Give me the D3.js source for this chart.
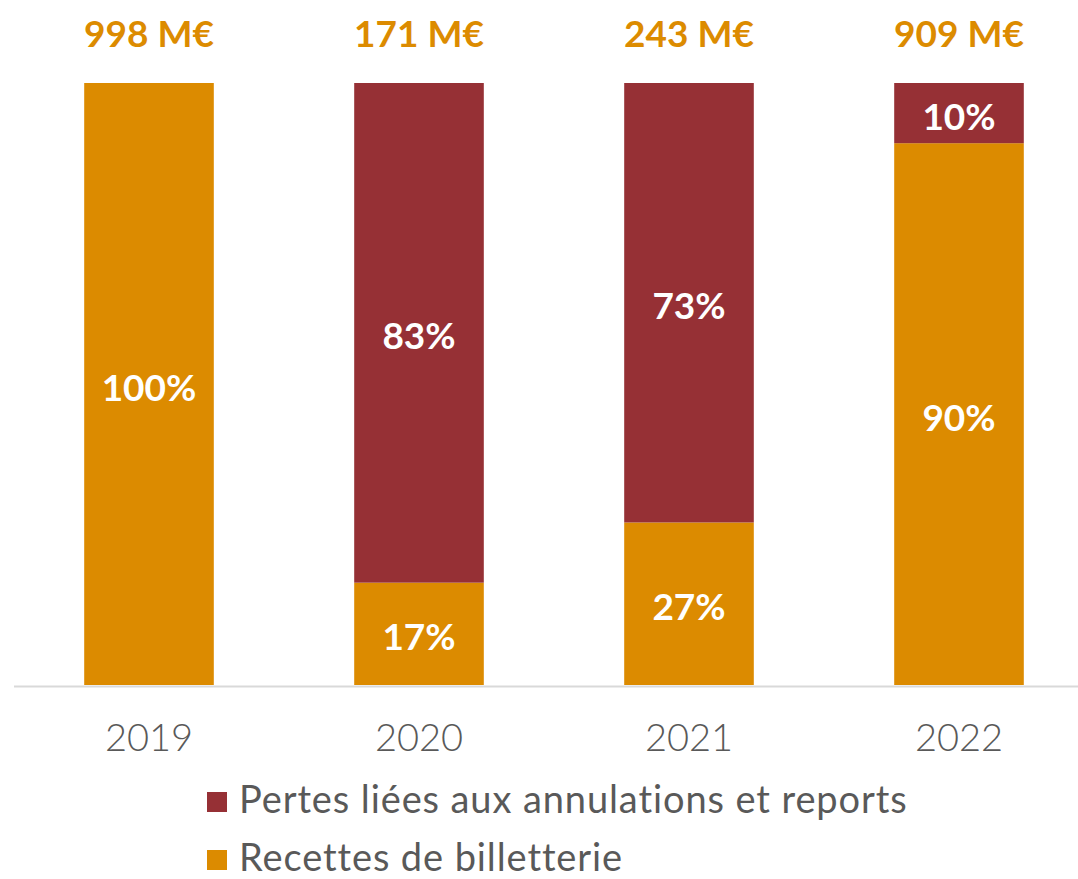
<!DOCTYPE html>
<html>
<head>
<meta charset="utf-8">
<script src="https://cdn.jsdelivr.net/npm/d3@7"></script>
<style>
  body { margin: 0; background: #fff; }
  svg text { font-family: "Lato", "Open Sans", sans-serif; }
</style>
</head>
<body>
<div id="chart"></div>
<script>
var years = ["2019", "2020", "2021", "2022"];
var recettes = [100, 17, 27, 90];   // Recettes de billetterie (%)
var pertes = [0, 83, 73, 10];       // Pertes liées aux annulations et reports (%)
var totals = ["998 M€", "171 M€", "243 M€", "909 M€"];
var seriesNames = ["Pertes liées aux annulations et reports", "Recettes de billetterie"];

var ORANGE = "#dc8b00", RED = "#963035", GREY = "#595959";

var W = 1078, H = 879;
var svg = d3.select("#chart").append("svg")
    .attr("width", W).attr("height", H);

var x = d3.scaleBand().domain(years).range([14, 1094]).paddingInner(0.52).paddingOuter(0.26);
var y = d3.scaleLinear().domain([0, 100]).range([685, 83]);

var rows = years.map(function(yr, i){
    return {year: yr, recettes: recettes[i], pertes: pertes[i], total: totals[i]};
});
var stack = d3.stack().keys(["recettes", "pertes"])(rows);
var colors = {recettes: ORANGE, pertes: RED};

// bars
var layer = svg.selectAll("g.layer").data(stack).enter()
    .append("g").attr("class", "layer")
    .attr("fill", function(d){ return colors[d.key]; });

layer.selectAll("rect").data(function(d){ return d; }).enter()
    .append("rect")
    .attr("x", function(d){ return x(d.data.year); })
    .attr("width", x.bandwidth())
    .attr("y", function(d){ return y(d[1]); })
    .attr("height", function(d){ return y(d[0]) - y(d[1]); });

// percent labels inside segments
layer.selectAll("text").data(function(d){ return d.filter(function(s){ return s[1] - s[0] > 0; }); })
    .enter().append("text")
    .attr("x", function(d){ return x(d.data.year) + x.bandwidth()/2; })
    .attr("y", function(d){ return (y(d[0]) + y(d[1]))/2; })
    .attr("dy", "0.45em")
    .attr("text-anchor", "middle")
    .attr("fill", "#fff")
    .attr("font-weight", 700)
    .attr("font-size", 37)
    .text(function(d){ return (d[1] - d[0]) + "%"; });

// axis line
svg.append("line")
    .attr("x1", 14).attr("x2", W)
    .attr("y1", 686.5).attr("y2", 686.5)
    .attr("stroke", "#d9d9d9").attr("stroke-width", 2);

// year labels
svg.selectAll("text.year").data(years).enter()
    .append("text").attr("class", "year")
    .attr("x", function(d){ return x(d) + x.bandwidth()/2; })
    .attr("y", 751)
    .attr("text-anchor", "middle")
    .attr("fill", GREY)
    .attr("font-weight", 300)
    .attr("font-size", 38)
    .text(function(d){ return d; });

// totals on top
svg.selectAll("text.total").data(rows).enter()
    .append("text").attr("class", "total")
    .attr("x", function(d){ return x(d.year) + x.bandwidth()/2; })
    .attr("y", 47)
    .attr("text-anchor", "middle")
    .attr("fill", ORANGE)
    .attr("font-weight", 700)
    .attr("font-size", 37)
    .text(function(d){ return d.total; });

// legend
var legend = svg.selectAll("g.legend").data(seriesNames).enter()
    .append("g").attr("class", "legend")
    .attr("transform", function(d, i){ return "translate(207," + (792 + i*58) + ")"; });

legend.append("rect")
    .attr("width", 20).attr("height", 20)
    .attr("fill", function(d, i){ return i == 0 ? RED : ORANGE; });

legend.append("text")
    .attr("x", 32).attr("y", 21)
    .attr("fill", GREY)
    .attr("font-size", 38)
    .attr("letter-spacing", 0.9)
    .text(function(d){ return d; });
</script>
</body>
</html>
